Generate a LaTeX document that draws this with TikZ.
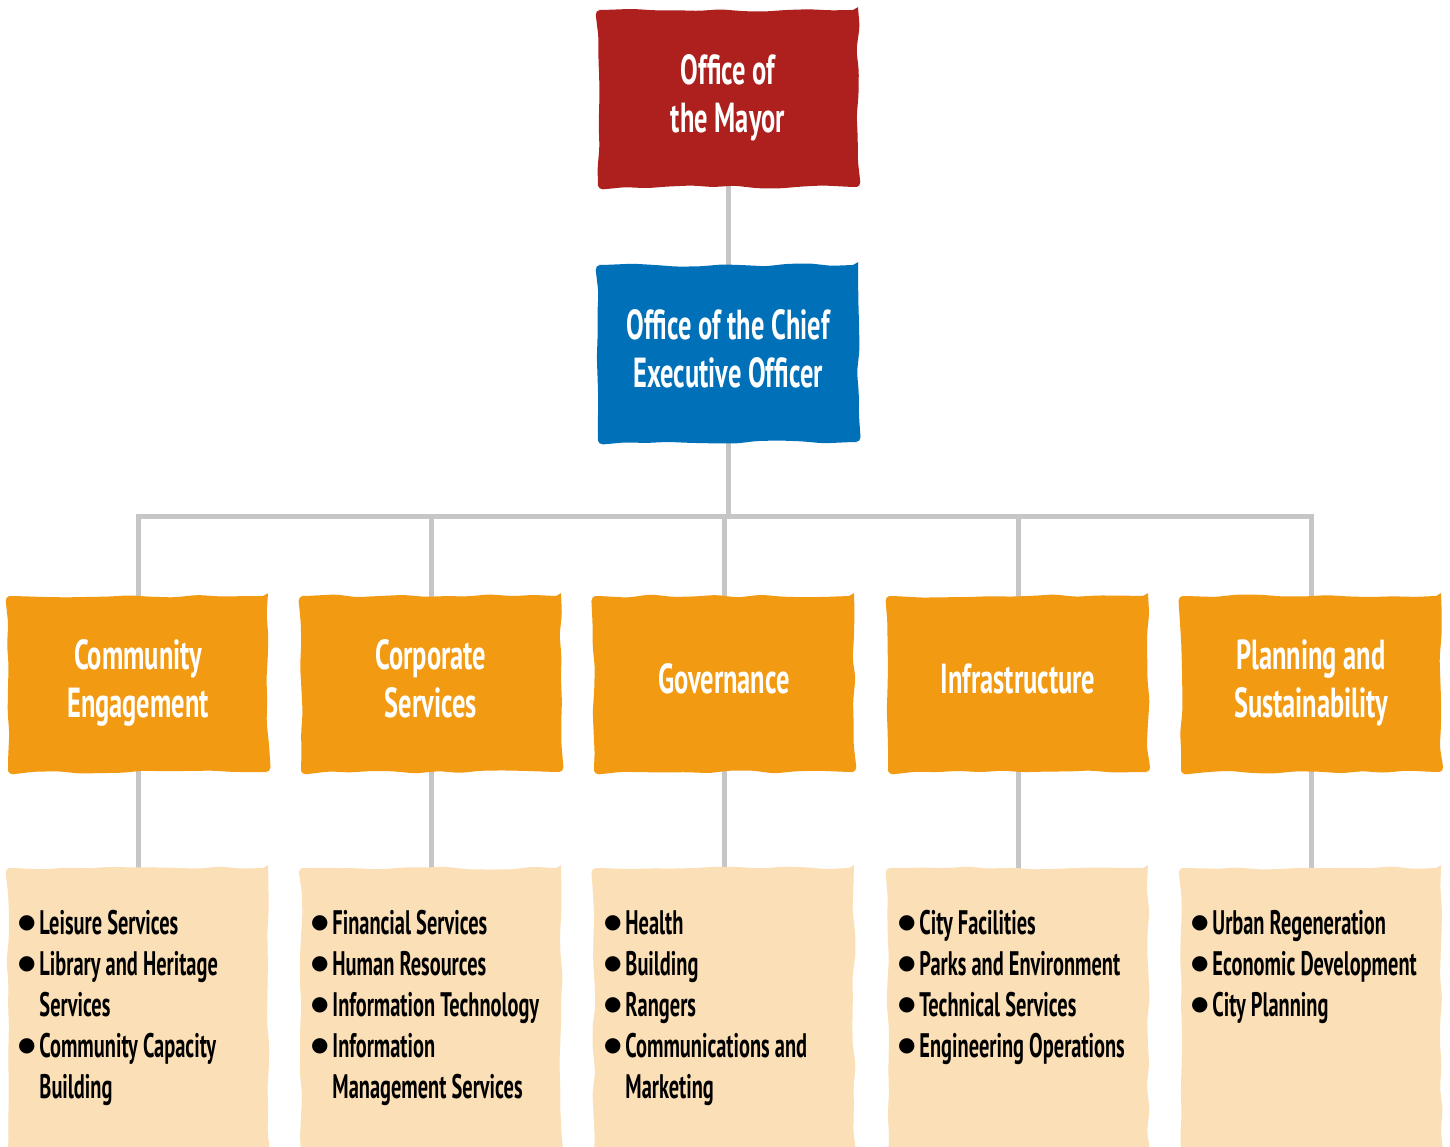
\documentclass[tikz,border=0pt]{standalone}
\usepackage{fontspec}
\usetikzlibrary{decorations.pathmorphing,calc,backgrounds}
\newfontfamily\headfont[FakeStretch=0.63]{PT Sans Bold}
\newfontfamily\itemfont[FakeStretch=0.6]{PT Sans Bold}
\newfontfamily\dotfont{DejaVu Sans}
\definecolor{mayorred}{HTML}{AE201E}
\definecolor{ceoblue}{HTML}{0070B8}
\definecolor{deptorange}{HTML}{F39A13}
\definecolor{paleorange}{HTML}{FBDFB7}
\definecolor{linegray}{HTML}{C6C6C6}
\newcommand\bul{\raisebox{6.5pt}{\dotfont\fontsize{20}{20}\selectfont\char"25CF}}
\newcommand\ttl[1]{\raisebox{6pt}{\begin{tabular}{@{}c@{}}#1\end{tabular}}}
\begin{document}
\pgfmathsetseed{7}
\begin{tikzpicture}[x=1pt,y=-1pt,
  wavy/.style={decorate, decoration={random steps, segment length=22pt, amplitude=1.6pt}, rounded corners=5pt},
  box/.style={wavy, minimum width=260pt, minimum height=177pt, inner sep=0pt, align=center,
    text=white, font=\headfont\fontsize{42}{48}\selectfont},
  redbox/.style={box, fill=mayorred},
  bluebox/.style={box, fill=ceoblue},
  dept/.style={box, fill=deptorange, minimum height=176pt},
  sub/.style={wavy, fill=paleorange, minimum width=260pt, minimum height=290pt, inner sep=0pt},
  items/.style={anchor=north west, inner sep=0pt, font=\itemfont\fontsize{34}{41}\selectfont, text=black},
  conn/.style={draw=linegray, line width=5pt}]
\useasboundingbox (0,0) rectangle (1450,1147);

% top of the hierarchy
\node (mayor) [redbox] at (728,98.5) {\ttl{Office of\\the Mayor}};
\node (ceo) [bluebox] at (728,353.5) {\ttl{Office of the Chief\\Executive Officer}};

% departments
\node (ce) [dept] at (138,684) {\ttl{Community\\Engagement}};
\node (cs) [dept] at (431,684) {\ttl{Corporate\\Services}};
\node (gv) [dept] at (724,684) {\ttl{Governance}};
\node (is) [dept] at (1018,684) {\ttl{Infrastructure}};
\node (ps) [dept] at (1311,684) {\ttl{Planning and\\Sustainability}};

% service panels
\node (ce-s) [sub] at (138,1013) {};
\node (cs-s) [sub] at (431,1013) {};
\node (gv-s) [sub] at (724,1013) {};
\node (is-s) [sub] at (1018,1013) {};
\node (ps-s) [sub] at (1311,1013) {};

\node (ce-l) [items] at ($(ce-s.north west)+(10,38)$) {\begin{tabular}{@{}l@{\hspace{4pt}}l@{}}
\bul & Leisure Services\\ \bul & Library and Heritage\\ & Services\\ \bul & Community Capacity\\ & Building\end{tabular}};
\node (cs-l) [items] at ($(cs-s.north west)+(10,38)$) {\begin{tabular}{@{}l@{\hspace{4pt}}l@{}}
\bul & Financial Services\\ \bul & Human Resources\\ \bul & Information Technology\\ \bul & Information\\ & Management Services\end{tabular}};
\node (gv-l) [items] at ($(gv-s.north west)+(10,38)$) {\begin{tabular}{@{}l@{\hspace{4pt}}l@{}}
\bul & Health\\ \bul & Building\\ \bul & Rangers\\ \bul & Communications and\\ & Marketing\end{tabular}};
\node (is-l) [items] at ($(is-s.north west)+(10,38)$) {\begin{tabular}{@{}l@{\hspace{4pt}}l@{}}
\bul & City Facilities\\ \bul & Parks and Environment\\ \bul & Technical Services\\ \bul & Engineering Operations\end{tabular}};
\node (ps-l) [items] at ($(ps-s.north west)+(10,38)$) {\begin{tabular}{@{}l@{\hspace{4pt}}l@{}}
\bul & Urban Regeneration\\ \bul & Economic Development\\ \bul & City Planning\end{tabular}};

% connectors behind the boxes
\coordinate (bus) at (725,516);
\begin{scope}[on background layer]
  \draw[conn] (mayor.center) -- (ceo.center);
  \foreach \d in {ce,cs,gv,is,ps} {
    \draw[conn, line join=miter] (ceo.center) -- (ceo.center |- bus) -| (\d.center);
    \draw[conn] (\d.center) -- (\d-s.center);
  }
\end{scope}
\end{tikzpicture}
\end{document}
